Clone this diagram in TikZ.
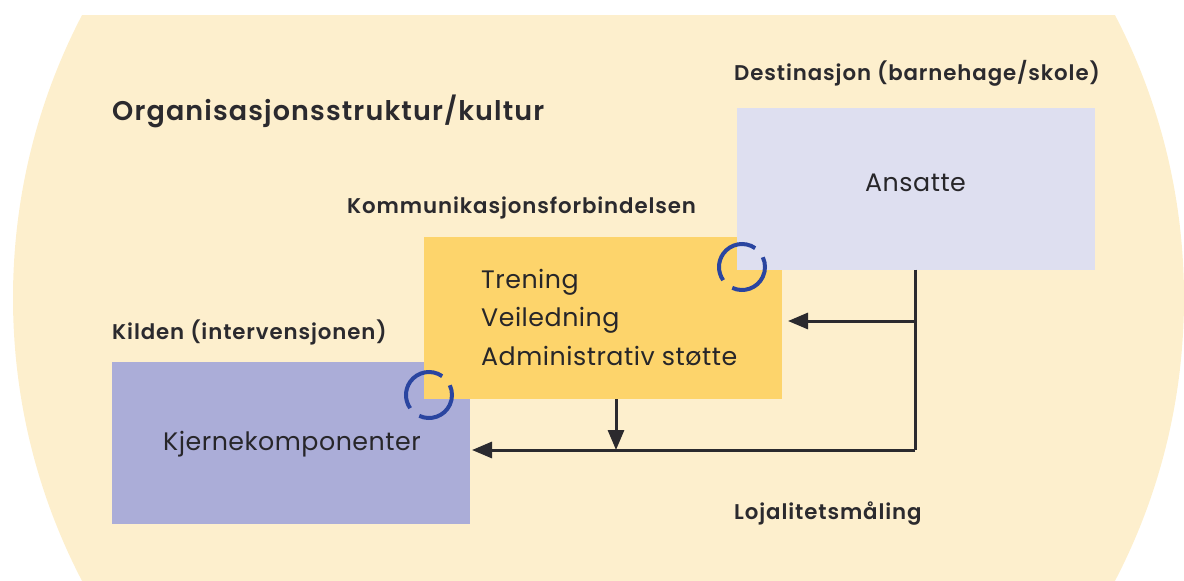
\documentclass[tikz,border=0pt]{standalone}
\usepackage{fontspec}
\setmainfont[LetterSpace=2]{Poppins}
\newfontfamily\semifont[LetterSpace=4.2]{Poppins SemiBold}
\usetikzlibrary{arrows.meta}
\definecolor{cream}{HTML}{FDEFCD}
\definecolor{sun}{HTML}{FDD46B}
\definecolor{lilac}{HTML}{ABADD8}
\definecolor{pale}{HTML}{DEDFF0}
\definecolor{ringblue}{HTML}{2A45A0}
\definecolor{ink}{HTML}{2B2A2E}
\tikzset{
  x=1pt,y=-1pt,
  boxshape/.style={rectangle,inner sep=0pt,minimum width=358pt,minimum height=162pt},
  head/.style={anchor=west,inner sep=0pt,text=ink,font=\semifont\fontsize{21.3}{25}\selectfont},
  body/.style={anchor=west,inner sep=0pt,text=ink!90!black,font=\fontsize{25.3}{38.5}\selectfont},
  conn/.style={draw=ink,line width=3pt,-{Triangle[length=20pt,width=16pt]}},
  plain/.style={draw=ink,line width=3pt},
  ring/.style={draw=ringblue,line width=4pt}
}
\begin{document}
\begin{tikzpicture}
\useasboundingbox (0,0) rectangle (1184,581);
\begin{scope}
\clip (0,15) rectangle (1184,581);
\fill[cream] (598.5,298) ellipse [x radius=585.5,y radius=600];
\end{scope}
\node[boxshape,fill=lilac] (kilde) at (290.5,443) {};
\node[boxshape,fill=sun] (link) at (603,318) {};
\node[boxshape,fill=pale] (dest) at (915.5,188.5) {};
\node[body] (ansatte) at (865,183) {Ansatte};
\node[body] (kjerne) at (163,444) {Kjernekomponenter};
\node[body,align=left] (tiltak) at (481,317) {Trening\\Veiledning\\Administrativ støtte};
\node[head,font=\semifont\fontsize{27}{32}\selectfont] (title) at (112,111) {Organisasjonsstruktur/kultur};
\node[head] (tdest) at (734,73) {Destinasjon (barnehage/skole)};
\node[head] (tlink) at (347,208) {Kommunikasjonsforbindelsen};
\node[head] (tkilde) at (112,332) {Kilden (intervensjonen)};
\node[head] (tloj) at (734,514) {Lojalitetsmåling};
\coordinate (turn) at (915,450);
\coordinate (split) at (915,321);
\coordinate (joint) at (616,450);
\coordinate (inlink) at (788,321);
\coordinate (inkilde) at (472,450);
\draw[plain] (dest.south -| turn) -- (turn);
\draw[conn] (turn) -- (inkilde);
\draw[conn] (split) -- (inlink);
\draw[conn] (link.south -| joint) -- (joint);
\foreach \cx/\cy in {742/267,429/395}{
  \draw[ring] ([shift={(55:23pt)}]\cx,\cy) arc [start angle=55,end angle=215,radius=23pt];
  \draw[ring] ([shift={(245:23pt)}]\cx,\cy) arc [start angle=245,end angle=385,radius=23pt];
}
\end{tikzpicture}
\end{document}
